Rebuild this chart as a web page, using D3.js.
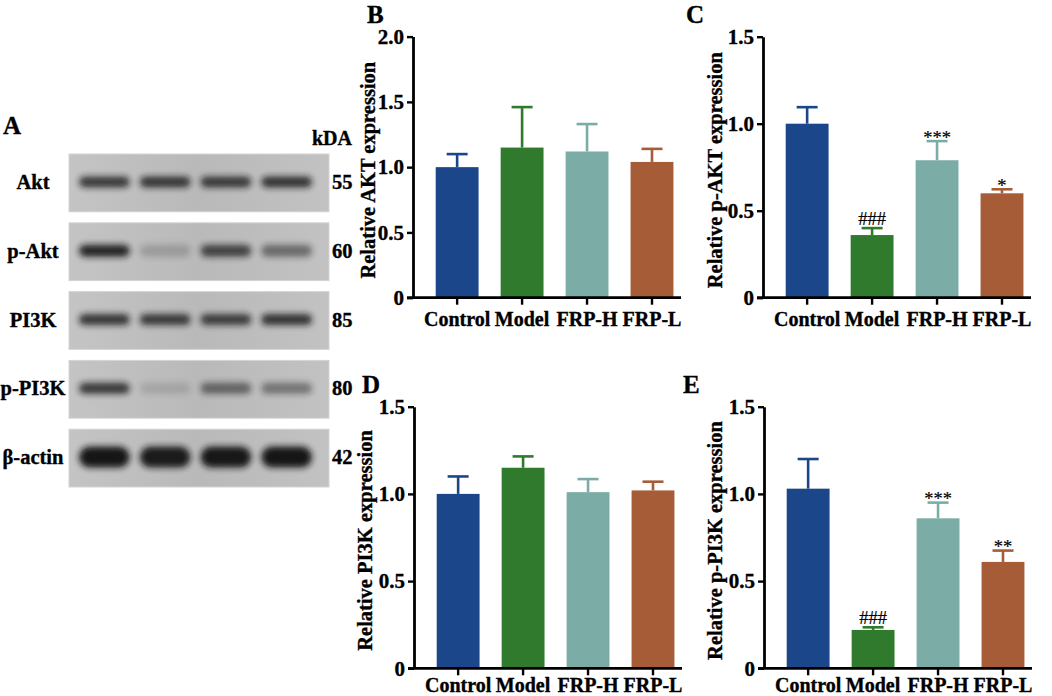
<!DOCTYPE html>
<html>
<head>
<meta charset="utf-8">
<script src="https://cdn.jsdelivr.net/npm/d3@7.9.0/dist/d3.min.js"></script>
<style>
  html, body { margin: 0; padding: 0; background: #fff; }
  svg { display: block; }
  text { font-family: "Liberation Serif", "Times New Roman", serif; font-weight: bold; fill: #000;
         stroke: #000; stroke-width: 0.35px; }
  .sig { font-weight: normal; stroke-width: 0.2px; }
</style>
</head>
<body>
<svg id="fig" width="1052" height="696"></svg>
<script>
// ---- data ----
const groups = ["Control", "Model", "FRP-H", "FRP-L"];
const groupColors = ["#1b4689", "#2f7a2c", "#7badA6", "#a65d37"];

const aktMean = [1.00, 1.15, 1.12, 1.04];
const aktSD = [0.10, 0.31, 0.21, 0.10];

const pAktMean = [1.00, 0.36, 0.79, 0.60];
const pAktSD = [0.095, 0.04, 0.11, 0.023];
const pAktSig = ["", "###", "***", "*"];

const pi3kMean = [1.00, 1.15, 1.01, 1.02];
const pi3kSD = [0.10, 0.065, 0.075, 0.05];

const pPi3kMean = [1.03, 0.22, 0.86, 0.61];
const pPi3kSD = [0.17, 0.015, 0.09, 0.065];
const pPi3kSig = ["", "###", "***", "**"];

const ticks2 = [0, 0.5, 1.0, 1.5, 2.0];
const ticks15 = [0, 0.5, 1.0, 1.5];

// western blot panel
const blotProteins = ["Akt", "p-Akt", "PI3K", "p-PI3K", "β-actin"];
const blotKDa = ["55", "60", "85", "80", "42"];
const lanes = ["1", "2", "3", "4"];
const bandIntensity = [
  [0.80, 0.82, 0.80, 0.84],
  [0.92, 0.20, 0.74, 0.50],
  [0.82, 0.80, 0.78, 0.84],
  [0.80, 0.14, 0.55, 0.45],
  [1.00, 0.97, 0.99, 1.00]
];
const bandThickness = [11, 12, 11, 11, 21];

const svg = d3.select("#fig");

// blur filter for the bands
const defs = svg.append("defs");
defs.append("filter").attr("id", "blur").attr("x", "-20%").attr("y", "-80%")
  .attr("width", "140%").attr("height", "260%")
  .append("feGaussianBlur").attr("stdDeviation", 3);
const grad = defs.append("linearGradient").attr("id", "membrane")
  .attr("x1", 0).attr("x2", 1).attr("y1", 0).attr("y2", 0);
grad.append("stop").attr("offset", "0%").attr("stop-color", "#c4c4c4");
grad.append("stop").attr("offset", "50%").attr("stop-color", "#b9b9b9");
grad.append("stop").attr("offset", "100%").attr("stop-color", "#c2c2c2");

function drawBlot() {
  const g = svg.append("g");
  const row = d3.scaleBand().domain(blotProteins).range([154, 487]).paddingInner(0.16);
  const lane = d3.scaleBand().domain(lanes).range([77, 314]).paddingInner(0.1);

  g.append("text").attr("x", 3).attr("y", 134).attr("font-size", 25).text("A");
  g.append("text").attr("x", 352).attr("y", 145).attr("font-size", 20)
    .attr("text-anchor", "end").text("kDA");

  blotProteins.forEach((p, i) => {
    const y0 = row(p), h = row.bandwidth();
    g.append("rect").attr("x", 69).attr("y", y0).attr("width", 260).attr("height", h)
      .attr("fill", "url(#membrane)").attr("stroke", "#d4d4d4").attr("stroke-width", 1);
    const cy = y0 + h / 2 - 1;
    g.selectAll(null).data(bandIntensity[i]).enter().append("rect")
      .attr("x", (d, j) => lane(lanes[j]) + 2)
      .attr("width", lane.bandwidth() - 4)
      .attr("y", cy - bandThickness[i] / 2)
      .attr("height", bandThickness[i])
      .attr("rx", bandThickness[i] / 2)
      .attr("fill", "#121212")
      .attr("opacity", d => d)
      .attr("filter", "url(#blur)");
    g.append("text").attr("x", 33).attr("y", cy + 7).attr("font-size", 20.5)
      .attr("text-anchor", "middle").text(p);
    g.append("text").attr("x", 332).attr("y", cy + 7).attr("font-size", 20.5).text(blotKDa[i]);
  });
}

function drawBars(opt) {
  const { axisX, y0, yTop, maxV, ticks, mean, sd, sig, title, letter, lx, ly, titleX, labelPad } = opt;
  const g = svg.append("g");

  const x = d3.scaleBand().domain(groups)
    .range([axisX, axisX + 268])
    .paddingInner(0.34).paddingOuter(0.233).align(0.75);
  const y = d3.scaleLinear().domain([0, maxV]).range([y0, yTop]);

  // bars
  g.selectAll(".bar").data(mean).enter().append("rect")
    .attr("class", "bar")
    .attr("x", (d, i) => x(groups[i]))
    .attr("width", x.bandwidth())
    .attr("y", d => y(d))
    .attr("height", d => y(0) - y(d))
    .attr("fill", (d, i) => groupColors[i]);

  // upper error bars
  const eb = g.selectAll(".err").data(mean).enter().append("g").attr("class", "err")
    .attr("stroke", (d, i) => groupColors[i]).attr("stroke-width", 2.6);
  eb.append("line")
    .attr("x1", (d, i) => x(groups[i]) + x.bandwidth() / 2)
    .attr("x2", (d, i) => x(groups[i]) + x.bandwidth() / 2)
    .attr("y1", d => y(d))
    .attr("y2", (d, i) => y(d + sd[i]));
  eb.append("line")
    .attr("x1", (d, i) => x(groups[i]) + x.bandwidth() / 2 - 10.5)
    .attr("x2", (d, i) => x(groups[i]) + x.bandwidth() / 2 + 10.5)
    .attr("y1", (d, i) => y(d + sd[i]))
    .attr("y2", (d, i) => y(d + sd[i]));

  // significance marks
  if (sig) {
    g.selectAll(".sig").data(sig).enter().append("text")
      .attr("class", "sig")
      .attr("x", (d, i) => x(groups[i]) + x.bandwidth() / 2)
      .attr("y", (d, i) => y(mean[i] + sd[i]) + (d[0] === "#" ? -3 : 2.5))
      .attr("text-anchor", "middle")
      .attr("font-size", 18.5)
      .text(d => d);
  }

  // y axis
  const yAxis = d3.axisLeft(y).tickValues(ticks)
    .tickFormat(d => d === 0 ? "0" : d3.format(".1f")(d))
    .tickSize(6).tickSizeOuter(0).tickPadding(3);
  const ya = g.append("g").attr("transform", `translate(${axisX},0)`).call(yAxis);
  ya.select(".domain").attr("stroke-width", 2.8);
  ya.selectAll(".tick line").attr("stroke-width", 2.4);
  ya.selectAll("text").attr("font-size", 21).style("font-family", "Liberation Serif").style("font-weight", "bold");

  // x axis
  const xAxis = d3.axisBottom(x).tickSize(7).tickSizeOuter(0).tickPadding(labelPad);
  const xa = g.append("g").attr("transform", `translate(0,${y0})`).call(xAxis);
  xa.select(".domain").remove();
  xa.append("line").attr("x1", axisX - 6).attr("x2", x.range()[1])
    .attr("stroke", "#000").attr("stroke-width", 2.8);
  xa.selectAll(".tick line").attr("stroke-width", 2.4);
  xa.selectAll("text").attr("font-size", 20).style("font-family", "Liberation Serif").style("font-weight", "bold");

  // title & letter
  g.append("text")
    .attr("transform", `translate(${titleX},${(y0 + yTop) / 2 + 3}) rotate(-90)`)
    .attr("text-anchor", "middle").attr("font-size", 20.5).text(title);
  g.append("text").attr("x", lx).attr("y", ly).attr("font-size", 25).text(letter);
}

drawBlot();

drawBars({ axisX: 413, y0: 297.7, yTop: 36.6, maxV: 2.0, ticks: ticks2,
  mean: aktMean, sd: aktSD, sig: null, title: "Relative AKT expression",
  letter: "B", lx: 367, ly: 23, titleX: 375, labelPad: 7 });

drawBars({ axisX: 763, y0: 297.7, yTop: 36.7, maxV: 1.5, ticks: ticks15,
  mean: pAktMean, sd: pAktSD, sig: pAktSig, title: "Relative p-AKT expression",
  letter: "C", lx: 686, ly: 23, titleX: 722, labelPad: 7 });

drawBars({ axisX: 414, y0: 668.3, yTop: 406.7, maxV: 1.5, ticks: ticks15,
  mean: pi3kMean, sd: pi3kSD, sig: null, title: "Relative PI3K expression",
  letter: "D", lx: 362, ly: 393, titleX: 372, labelPad: 3 });

drawBars({ axisX: 764, y0: 668.3, yTop: 406.7, maxV: 1.5, ticks: ticks15,
  mean: pPi3kMean, sd: pPi3kSD, sig: pPi3kSig, title: "Relative p-PI3K expression",
  letter: "E", lx: 683, ly: 393, titleX: 722, labelPad: 3 });
</script>
</body>
</html>
